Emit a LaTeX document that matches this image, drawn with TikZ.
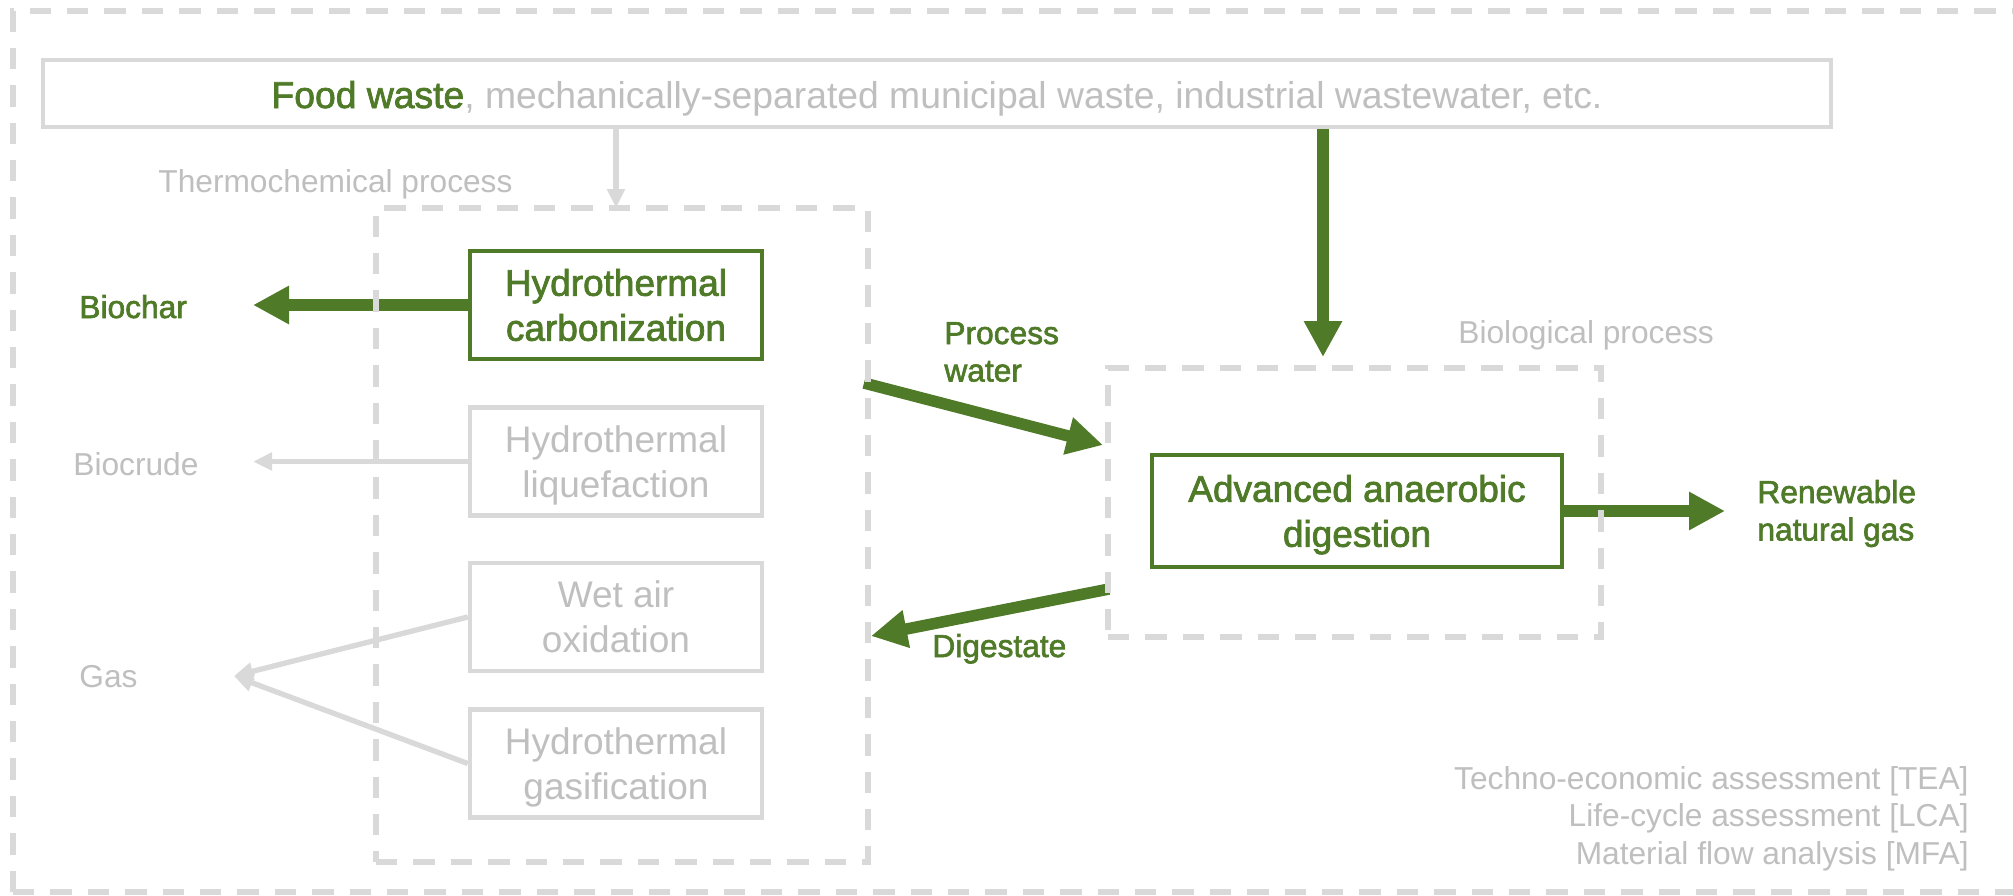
\documentclass[tikz,border=0pt]{standalone}
\usepackage{fontspec}
\setmainfont{Liberation Sans}
\newfontfamily\greenfont{Liberation Sans}[FakeBold=2]
\usetikzlibrary{arrows.meta}

\definecolor{leaf}{RGB}{79,122,40}
\definecolor{frame}{RGB}{217,217,217}
\definecolor{mute}{RGB}{191,191,191}

% multi-line text whose reference point is the baseline of the first line
\newcommand\stackc[1]{\vtop{\halign{\hfil##\hfil\cr#1\crcr}}}
\newcommand\stackl[1]{\vtop{\halign{##\hfil\cr#1\crcr}}}
\newcommand\stackr[1]{\vtop{\halign{\hfil##\cr#1\crcr}}}

\tikzset{
  procbox/.style={draw=leaf, line width=2pt, minimum width=146pt, minimum height=54pt,
    inner sep=0pt, text=leaf, font=\greenfont\fontsize{18.5}{22.5}\selectfont,
    text height=13.25pt, text depth=22.5pt},
  offbox/.style={procbox, draw=frame, line width=2.25pt, text=mute,
    font=\fontsize{18.5}{22.5}\selectfont},
  zone/.style={draw=frame, line width=2.75pt, dash pattern=on 10.7pt off 8pt},
  mainflow/.style={draw=leaf, line width=5.75pt, -{Triangle[length=18pt,width=18pt]}},
  sideflow/.style={draw=frame, line width=2.65pt, -{Triangle[length=9.5pt,width=8.5pt]}},
  tag/.style={inner sep=0pt, font=\fontsize{15.85}{18.75}\selectfont},
  greentag/.style={tag, text=leaf, font=\greenfont\fontsize{15.85}{18.75}\selectfont},
  greytag/.style={tag, text=mute},
}

\begin{document}
\begin{tikzpicture}[x=0.5pt, y=-0.5pt]
\useasboundingbox (0,0) rectangle (2013,895);
\fill[white] (0,0) rectangle (2013,895);

% feedstock
\node[draw=frame, line width=2.25pt, minimum width=894pt, minimum height=33.5pt, inner sep=0pt,
      text=mute, font=\fontsize{18.65}{22}\selectfont, text height=14.5pt, text depth=0pt]
  (src) at (937,93.5)
  {{\greenfont\color{leaf}Food waste}, mechanically-separated municipal waste, industrial wastewater, etc.};

% thermochemical routes
\node[procbox] (htc) at (616,305)   {\stackc{Hydrothermal\cr carbonization}};
\node[offbox]  (htl) at (616,461.5) {\stackc{Hydrothermal\cr liquefaction}};
\node[offbox]  (wao) at (616,617)   {\stackc{Wet air\cr oxidation}};
\node[offbox]  (htg) at (616,763.5) {\stackc{Hydrothermal\cr gasification}};

% biological route
\node[procbox, minimum width=205pt, minimum height=56pt] (aad) at (1357,511)
  {\stackc{Advanced anaerobic\cr digestion}};

% free ends of the flows
\coordinate (thermoIn) at (616,208);
\coordinate (bioIn) at (1323,357);
\coordinate (charTip) at (253,305);
\coordinate (crudeTip) at (253,461.5);
\coordinate (gasTip) at (234,676);
\coordinate (pwStart) at (864,383);
\coordinate (pwEnd) at (1103,445);
\coordinate (dgStart) at (1109,589);
\coordinate (dgEnd) at (871,636);
\coordinate (rngTip) at (1725,511);

% flows
\draw[sideflow] (src.south -| thermoIn) -- (thermoIn);
\draw[mainflow] (src.south -| bioIn) -- (bioIn);
\draw[mainflow] (htc.west) -- (charTip);
\draw[sideflow] (htl.west) -- (crudeTip);
\draw[sideflow] (wao.west) -- (gasTip);
\draw[sideflow] (htg.west) -- (gasTip);
\draw[mainflow] (pwStart) -- (pwEnd);
\draw[mainflow] (dgStart) -- (dgEnd);
\draw[mainflow] (aad.east) -- (rngTip);

% process zones
\draw[zone] (13,892) -- (13,11) -- (2040,11);
\draw[zone] (13,892) -- (2040,892);
\node[zone, minimum width=246pt, minimum height=327pt, inner sep=0pt] (thermo) at (622,535) {};
\node[zone, minimum width=246.5pt, minimum height=134.5pt, inner sep=0pt] (bio) at (1354.5,502.5) {};

% labels
\node[greytag, anchor=base west] (thermoLbl) at (158,192) {Thermochemical process};
\node[greytag, anchor=base west] (bioLbl) at (1458,343) {Biological process};
\node[greentag, anchor=base west] (biochar) at (79,318) {Biochar};
\node[greytag, anchor=base west] (biocrude) at (73,475) {Biocrude};
\node[greytag, anchor=base west] (gas) at (79,687) {Gas};
\node[greentag, anchor=base west] (pw) at (944,344) {\stackl{Process\cr water}};
\node[greentag, anchor=base west] (dg) at (932,657) {Digestate};
\node[greentag, anchor=base west] (rng) at (1757,503) {\stackl{Renewable\cr natural gas}};
\node[greytag, anchor=base east] (assess) at (1969,789)
  {\stackr{Techno-economic assessment [TEA]\cr Life-cycle assessment [LCA]\cr Material flow analysis [MFA]}};
\end{tikzpicture}
\end{document}
